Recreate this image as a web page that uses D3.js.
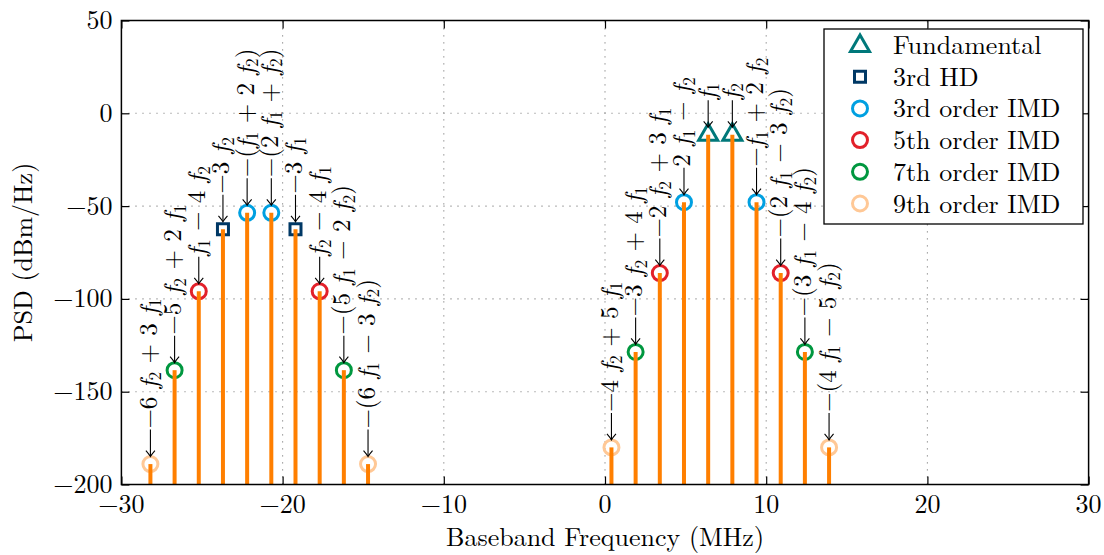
<!DOCTYPE html>
<html><head><meta charset="utf-8">
<script src="https://cdn.jsdelivr.net/npm/d3@7"></script>
<style>
body{margin:0;background:#fff}
svg{display:block}
</style>
</head><body>
<svg id="chart" width="1104" height="555"></svg>
<script>
// ---- data ----
const freqs = [-28.2,-26.7,-25.2,-23.7,-22.2,-20.7,-19.2,-17.7,-16.2,-14.7,
               0.4,1.9,3.4,4.9,6.4,7.9,9.4,10.9,12.4,13.9];
const psd = [-189,-138.4,-95.9,-62.5,-53.6,-53.6,-62.5,-95.9,-138.4,-189,
             -180,-128.6,-86.1,-47.9,-11.6,-11.6,-47.9,-86.1,-128.6,-180];
const kinds = ["imd9","imd7","imd5","hd3","imd3","imd3","hd3","imd5","imd7","imd9",
               "imd9","imd7","imd5","imd3","fund","fund","imd3","imd5","imd7","imd9"];
const labels = ["−6 f_2 + 3 f_1","−5 f_2 + 2 f_1","f_1 − 4 f_2","−3 f_2","−(f_1 + 2 f_2)",
                "−(2 f_1 + f_2)","−3 f_1","f_2 − 4 f_1","−(5 f_1 − 2 f_2)","−(6 f_1 − 3 f_2)",
                "−4 f_2 + 5 f_1","−3 f_2 + 4 f_1","−2 f_2 + 3 f_1","2 f_1 − f_2","f_1",
                "f_2","−f_1 + 2 f_2","−(2 f_1 − 3 f_2)","−(3 f_1 − 4 f_2)","−(4 f_1 − 5 f_2)"];
const seriesKeys = ["fund","hd3","imd3","imd5","imd7","imd9"];
const seriesNames = ["Fundamental","3rd HD","3rd order IMD","5th order IMD","7th order IMD","9th order IMD"];
const seriesColors = ["#00787a","#003865","#00a0e1","#e2202a","#00973f","#ffc896"];
const xTicks = [-30,-20,-10,0,10,20,30];
const yTicks = [50,0,-50,-100,-150,-200];
const xDomain = [-30,30], yDomain = [-200,50];
const xTitle = "Baseband Frequency (MHz)", yTitle = "PSD (dBm/Hz)";

// ---- layout ----
const FONT = '"Latin Modern Roman", "Liberation Serif", serif';
const ff = sel => sel.style("font-family", FONT).style("white-space","pre").attr("fill","#000");
const svg = d3.select("#chart");
const L = 121.4, R = 1088.6, T = 20.5, B = 484.5;
const x = d3.scaleLinear().domain(xDomain).range([L,R]);
const y = d3.scaleLinear().domain(yDomain).range([B,T]);
const color = d3.scaleOrdinal().domain(seriesKeys).range(seriesColors);
const fmt = v => (v<0 ? "−"+Math.abs(v) : ""+v);

// grid
const grid = svg.append("g").attr("stroke","#8c8c8c").attr("stroke-width",1.1)
  .attr("stroke-dasharray","1.2,5.8");
grid.selectAll(".gx").data(xTicks.slice(1,-1)).join("line")
  .attr("x1",d=>x(d)).attr("x2",d=>x(d)).attr("y1",B).attr("y2",T);
grid.selectAll(".gy").data(yTicks.slice(1,-1)).join("line")
  .attr("y1",d=>y(d)).attr("y2",d=>y(d)).attr("x1",L).attr("x2",R);

// axes (ticks inside, both sides)
const tl = 8;
const axB = svg.append("g").attr("transform",`translate(0,${B})`)
  .call(d3.axisBottom(x).tickValues(xTicks).tickSize(-tl).tickFormat(""));
const axT = svg.append("g").attr("transform",`translate(0,${T})`)
  .call(d3.axisTop(x).tickValues(xTicks).tickSize(-tl).tickFormat(""));
const axL = svg.append("g").attr("transform",`translate(${L},0)`)
  .call(d3.axisLeft(y).tickValues(yTicks).tickSize(-tl).tickFormat(""));
const axR = svg.append("g").attr("transform",`translate(${R},0)`)
  .call(d3.axisRight(y).tickValues(yTicks).tickSize(-tl).tickFormat(""));
[axB,axT,axL,axR].forEach(a=>{a.select(".domain").remove();a.selectAll("line").attr("stroke","#000").attr("stroke-width",1.2);});

// tick labels
svg.append("g").selectAll("text").data(xTicks).join("text")
  .attr("x",d=>x(d)).attr("y",B+28).attr("text-anchor","middle")
  .attr("font-size",26).text(fmt).call(ff);
svg.append("g").selectAll("text").data(yTicks).join("text")
  .attr("x",L-9).attr("y",d=>y(d)+8.5).attr("text-anchor","end")
  .attr("font-size",26).text(fmt).call(ff);

// titles
svg.append("text").attr("x",(L+R)/2).attr("y",546).attr("text-anchor","middle")
  .attr("font-size",26).text(xTitle).call(ff);
svg.append("text").attr("transform",`translate(32,${(T+B)/2}) rotate(-90)`)
  .attr("text-anchor","middle").attr("font-size",26).text(yTitle).call(ff);

// markers
function markerPath(kind){
  if(kind==="fund"){ const r=11; return `M0,${-r}L${r*0.866},${r/2}L${-r*0.866},${r/2}Z`; }
  if(kind==="hd3"){ const s=5.5; return `M${-s},${-s}H${s}V${s}H${-s}Z`; }
  const r=7.5; return `M${r},0A${r},${r} 0 1,1 ${-r},0A${r},${r} 0 1,1 ${r},0Z`;
}
const pts = freqs.map((f,i)=>({f, v:psd[i], k:kinds[i], lab:labels[i]}));
svg.append("g").selectAll("path").data(pts).join("path")
  .attr("transform",d=>`translate(${x(d.f)},${y(d.v)})`)
  .attr("d",d=>markerPath(d.k)).attr("fill","none")
  .attr("stroke",d=>color(d.k)).attr("stroke-width",3).attr("stroke-linejoin","miter");

// stems (drawn over markers)
svg.append("g").selectAll("line").data(pts).join("line")
  .attr("x1",d=>x(d.f)).attr("x2",d=>x(d.f)).attr("y1",d=>y(d.v)).attr("y2",B)
  .attr("stroke","#ff7f00").attr("stroke-width",4);

// frame
svg.append("rect").attr("x",L).attr("y",T).attr("width",R-L).attr("height",B-T)
  .attr("fill","none").attr("stroke","#000").attr("stroke-width",1.5);

// annotation labels
const LFS = 25;
function addMath(textSel, str, fs){
  const toks = str.split(" ");
  toks.forEach((tok,ti)=>{
    const sp = ti < toks.length-1 ? " " : "";
    const m = tok.match(/^(.*?)f_(\d)(.*)$/);
    if(m){
      if(m[1]) textSel.append("tspan").text(m[1]);
      textSel.append("tspan").attr("font-style","italic").text("f");
      textSel.append("tspan").attr("font-size",fs*0.7).attr("dy",4.5).text(m[2]);
      textSel.append("tspan").attr("dy",-4.5).text(m[3]+sp);
    } else {
      textSel.append("tspan").text(tok+sp);
    }
  });
}
const ann = svg.append("g");
pts.forEach(d=>{
  const g = ann.append("g").attr("transform",`translate(${x(d.f)},${y(d.v)-7.5}) rotate(-90)`);
  g.append("line").attr("x1",0.5).attr("x2",27).attr("y1",0).attr("y2",0)
    .attr("stroke","#000").attr("stroke-width",1.1);
  g.append("path").attr("d","M6,-4.5Q2,-1 0,0Q2,1 6,4.5").attr("fill","none")
    .attr("stroke","#000").attr("stroke-width",1.1);
  const t = g.append("text").attr("x",28).attr("y",6.5).attr("font-size",LFS).call(ff);
  addMath(t, d.lab, LFS);
});

// legend
const lgX=824, lgY=29, lgW=259, lgH=195, rowH=31.7;
const lg = svg.append("g");
lg.append("rect").attr("x",lgX).attr("y",lgY).attr("width",lgW).attr("height",lgH)
  .attr("fill","#fff").attr("stroke","#000").attr("stroke-width",1.3);
seriesKeys.forEach((k,i)=>{
  const cy = lgY+16+i*rowH;
  lg.append("path").attr("transform",`translate(860,${cy+(k==="fund"?1:0)})`)
    .attr("d",markerPath(k)).attr("fill","none").attr("stroke",color(k)).attr("stroke-width",3);
  lg.append("text").attr("x",893).attr("y",cy+9).attr("font-size",26).text(seriesNames[i]).call(ff);
});
</script>
</body></html>
